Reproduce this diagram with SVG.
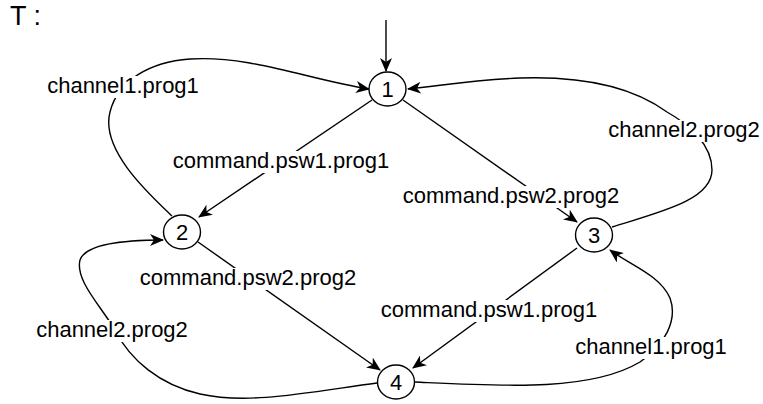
<svg xmlns="http://www.w3.org/2000/svg" width="763" height="404" viewBox="0 0 763 404">
<style>
.edge{fill:none;stroke:#000;stroke-width:1.4}
.node{fill:#fff;stroke:#000;stroke-width:1.4}
.lbl{font-family:"Liberation Sans",Arial,Helvetica,sans-serif;font-size:22px;fill:#000;text-anchor:middle}
.bg{fill:#fff}
</style>
<defs>
<marker id="arr" markerUnits="userSpaceOnUse" markerWidth="14" markerHeight="12" viewBox="0 0 14 12" refX="13" refY="6" orient="auto">
<path d="M0,0 L14,6 L0,12 L4,6 Z" fill="#000"/>
</marker>
</defs>
<rect width="763" height="404" fill="#fff"/>
<text x="10" y="25" style="font-family:'Liberation Sans',Arial,sans-serif;font-size:27px">T :</text>
<g id="connectors">
<path class="edge" marker-end="url(#arr)" d="M386,20 L386,71"/>
<g id="e21">
<path class="edge" marker-end="url(#arr)" d="M172,216 C150,195 100,150 110,112 C118,80 150,62 190,59 C250,55 310,80 369,89"/>
<rect class="bg" x="45" y="76" width="156" height="22"/>
<text class="lbl" x="123" y="93">channel1.prog1</text>
</g>
<g id="e12">
<path class="edge" marker-end="url(#arr)" d="M372,100 L199,217"/>
<rect class="bg" x="171" y="151" width="220" height="22"/>
<text class="lbl" x="281" y="168">command.psw1.prog1</text>
</g>
<g id="e13">
<path class="edge" marker-end="url(#arr)" d="M403,100 L577,222"/>
<rect class="bg" x="401" y="186" width="220" height="22"/>
<text class="lbl" x="511" y="203">command.psw2.prog2</text>
</g>
<g id="e31">
<path class="edge" marker-end="url(#arr)" d="M612,227 C660,212 712,200 712,170 C712,145 690,125 667,112 C630,85 580,76 520,78 C470,80 440,86 408,89"/>
<rect class="bg" x="606" y="120" width="156" height="22"/>
<text class="lbl" x="684" y="137">channel2.prog2</text>
</g>
<g id="e24">
<path class="edge" marker-end="url(#arr)" d="M198,242 L380,370"/>
<rect class="bg" x="138" y="268" width="220" height="22"/>
<text class="lbl" x="248" y="285">command.psw2.prog2</text>
</g>
<g id="e42">
<path class="edge" marker-end="url(#arr)" d="M377,383 C310,392 250,405 200,394 C160,385 130,360 115,330 C100,305 75,280 80,260 C85,245 120,240 163,240"/>
<rect class="bg" x="34" y="320" width="156" height="22"/>
<text class="lbl" x="112" y="337">channel2.prog2</text>
</g>
<g id="e34">
<path class="edge" marker-end="url(#arr)" d="M577,248 L413,368"/>
<rect class="bg" x="379" y="300" width="220" height="22"/>
<text class="lbl" x="489" y="317">command.psw1.prog1</text>
</g>
<g id="e43">
<path class="edge" marker-end="url(#arr)" d="M415,382 C500,386 590,392 640,362 C665,345 678,320 670,298 C660,275 630,265 610,250"/>
<rect class="bg" x="573" y="337" width="156" height="22"/>
<text class="lbl" x="651" y="354">channel1.prog1</text>
</g>
</g>
<g id="node1">
<ellipse class="node" cx="387.5" cy="89" rx="18.5" ry="17"/>
<text class="lbl" x="387.5" y="97">1</text>
</g>
<g id="node2">
<ellipse class="node" cx="182" cy="232" rx="18.5" ry="17"/>
<text class="lbl" x="182" y="240">2</text>
</g>
<g id="node3">
<ellipse class="node" cx="594" cy="235" rx="18.5" ry="17"/>
<text class="lbl" x="594" y="243">3</text>
</g>
<g id="node4">
<ellipse class="node" cx="396" cy="382" rx="18.5" ry="17"/>
<text class="lbl" x="396" y="390">4</text>
</g>
</svg>
